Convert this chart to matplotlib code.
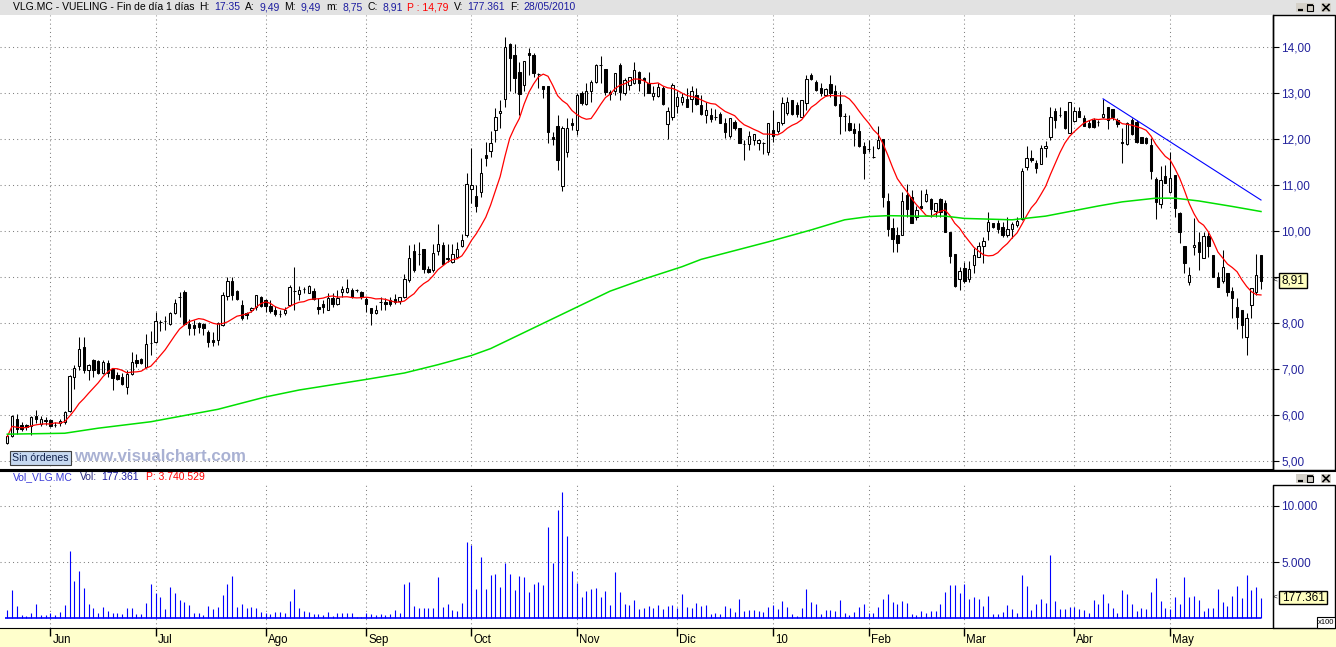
import numpy as np
import pandas as pd
import matplotlib
matplotlib.use("Agg")
import matplotlib.pyplot as plt
from matplotlib.patches import Rectangle
import matplotlib.transforms as mtransforms

plt.rcParams['font.family'] = ['Liberation Sans', 'DejaVu Sans']

# ---------------- data ----------------
opens = [
    5.40, 5.54, 5.92, 5.80, 5.80, 5.77, 5.98, 5.81, 5.90, 5.90,
    5.80, 5.83, 5.85, 6.10, 6.83, 7.07, 7.49, 6.98, 7.20, 7.18,
    6.91, 7.14, 7.00, 6.88, 6.83, 6.61, 6.90, 7.21, 7.23, 7.05,
    7.58, 7.60, 8.02, 8.04, 7.99, 8.22, 8.58, 8.69, 7.98, 7.96,
    8.00, 7.98, 7.82, 7.63, 7.63, 7.97, 8.60, 8.92, 8.71, 8.40,
    8.23, 8.29, 8.36, 8.58, 8.51, 8.38, 8.30, 8.20, 8.22, 8.40,
    8.71, 8.63, 8.74, 8.65, 8.71, 8.36, 8.42, 8.30, 8.54, 8.42,
    8.69, 8.69, 8.72, 8.72, 8.69, 8.52, 8.33, 8.22, 8.47, 8.47,
    8.51, 8.52, 8.49, 8.58, 8.94, 9.57, 9.50, 9.61, 9.19, 9.16,
    9.57, 9.70, 9.43, 9.34, 9.45, 9.68, 9.91, 10.91, 10.77, 10.85,
    11.66, 11.75, 12.20, 12.57, 12.87, 14.07, 13.83, 13.46, 13.17, 13.88,
    13.83, 13.42, 13.16, 13.15, 12.06, 12.29, 10.99, 11.73, 12.36, 12.20,
    13.00, 12.77, 13.06, 13.25, 13.62, 13.53, 13.02, 13.04, 13.62, 13.01,
    13.18, 13.23, 13.46, 13.34, 13.23, 12.95, 12.94, 13.11, 12.33, 12.49,
    12.72, 12.80, 12.87, 12.87, 12.96, 12.75, 12.53, 12.53, 12.49, 12.55,
    12.36, 12.07, 12.38, 12.24, 11.90, 11.89, 11.99, 11.93, 11.91, 11.73,
    12.20, 12.17, 12.35, 12.57, 12.86, 12.75, 12.49, 12.78, 13.40, 13.25,
    13.11, 12.96, 13.20, 13.04, 12.77, 12.51, 12.36, 12.22, 12.19, 11.86,
    11.78, 11.61, 11.80, 12.01, 10.66, 10.08, 9.92, 9.91, 10.79, 10.74,
    10.32, 10.56, 10.66, 10.70, 10.45, 10.70, 10.61, 9.98, 9.50, 8.96,
    9.21, 8.96, 9.27, 9.45, 9.67, 10.01, 10.17, 10.19, 10.10, 9.91,
    10.05, 10.14, 10.27, 11.39, 11.59, 11.49, 11.46, 11.80, 12.06, 12.62,
    12.53, 12.62, 12.13, 12.40, 12.62, 12.47, 12.36, 12.41, 12.38, 12.49,
    12.70, 12.65, 12.43, 11.95, 11.90, 12.43, 12.38, 12.04, 12.02, 11.88,
    11.13, 10.59, 11.20, 10.86, 11.22, 10.39, 9.67, 8.89, 9.65, 9.77,
    9.41, 9.90, 9.49, 9.01, 8.93, 9.10, 8.70, 8.36, 8.30, 7.71,
    8.40, 8.69, 9.49]

highs = [
    5.59, 6.00, 6.03, 5.85, 5.81, 5.98, 6.12, 5.98, 5.96, 5.92,
    5.85, 5.93, 6.10, 6.87, 7.09, 7.71, 7.71, 7.12, 7.23, 7.21,
    7.20, 7.21, 7.02, 6.94, 6.92, 6.98, 7.38, 7.34, 7.25, 7.76,
    7.83, 8.24, 8.07, 8.16, 8.24, 8.53, 8.67, 8.72, 8.09, 8.07,
    8.02, 8.00, 7.85, 7.82, 8.02, 8.69, 9.01, 9.01, 8.72, 8.51,
    8.25, 8.36, 8.61, 8.60, 8.52, 8.51, 8.38, 8.29, 8.35, 8.83,
    9.23, 8.81, 8.78, 8.83, 8.76, 8.54, 8.51, 8.65, 8.65, 8.72,
    8.81, 8.96, 8.76, 8.74, 8.71, 8.58, 8.33, 8.40, 8.58, 8.54,
    8.58, 8.63, 8.58, 9.07, 9.70, 9.73, 9.77, 9.61, 9.24, 9.73,
    10.15, 9.77, 9.73, 9.73, 9.77, 9.95, 11.26, 11.80, 11.01, 11.59,
    11.95, 12.17, 12.67, 12.86, 14.22, 14.09, 14.07, 13.69, 13.70, 13.98,
    13.88, 13.45, 13.16, 13.15, 12.15, 12.53, 12.28, 12.46, 12.46, 13.01,
    13.04, 13.22, 13.29, 13.64, 13.81, 13.53, 13.07, 13.44, 13.65, 13.33,
    13.36, 13.67, 13.49, 13.36, 13.47, 13.16, 13.22, 13.15, 12.71, 13.22,
    13.04, 13.00, 13.11, 13.15, 13.11, 12.96, 12.82, 12.67, 12.65, 12.60,
    12.46, 12.46, 12.42, 12.24, 11.99, 12.19, 12.12, 12.00, 11.95, 12.35,
    12.64, 12.38, 12.93, 12.93, 12.86, 12.82, 12.86, 13.40, 13.44, 13.29,
    13.23, 13.11, 13.40, 13.18, 13.04, 12.57, 12.53, 12.35, 12.35, 11.95,
    11.99, 11.86, 12.28, 12.01, 10.83, 10.28, 10.10, 10.86, 11.02, 10.90,
    10.54, 10.90, 10.91, 10.72, 10.62, 10.72, 10.68, 9.98, 9.50, 9.23,
    9.34, 9.36, 9.63, 9.77, 9.88, 10.41, 10.17, 10.25, 10.21, 10.32,
    10.21, 10.32, 11.37, 11.85, 11.77, 11.55, 11.88, 11.96, 12.71, 12.67,
    12.71, 12.62, 12.80, 12.71, 12.71, 12.53, 12.41, 12.46, 12.43, 12.88,
    12.70, 12.65, 12.46, 12.24, 12.38, 12.46, 12.42, 12.06, 12.06, 12.02,
    11.19, 11.41, 11.44, 11.73, 11.22, 10.43, 9.67, 9.23, 10.28, 9.99,
    9.99, 9.99, 9.49, 9.12, 9.59, 9.10, 8.80, 8.54, 8.30, 8.23,
    8.76, 9.51, 9.49]

lows = [
    5.38, 5.53, 5.59, 5.66, 5.68, 5.58, 5.83, 5.77, 5.80, 5.74,
    5.74, 5.77, 5.81, 6.08, 6.58, 6.98, 6.91, 6.77, 6.83, 6.89,
    6.89, 6.83, 6.55, 6.76, 6.65, 6.47, 6.88, 7.05, 7.11, 7.03,
    7.31, 7.58, 7.83, 7.85, 7.97, 8.20, 8.13, 7.96, 7.74, 7.74,
    7.78, 7.74, 7.49, 7.50, 7.53, 7.94, 8.51, 8.51, 8.51, 8.07,
    8.09, 8.25, 8.29, 8.36, 8.25, 8.22, 8.16, 8.14, 8.18, 8.38,
    8.29, 8.51, 8.66, 8.65, 8.51, 8.20, 8.23, 8.29, 8.36, 8.40,
    8.58, 8.66, 8.56, 8.69, 8.53, 8.25, 7.97, 8.20, 8.29, 8.30,
    8.38, 8.43, 8.43, 8.56, 8.90, 9.12, 9.26, 9.10, 9.10, 9.12,
    9.48, 9.26, 9.34, 9.31, 9.41, 9.66, 9.88, 10.61, 10.41, 10.75,
    11.41, 11.62, 11.95, 12.24, 12.70, 13.04, 13.00, 12.53, 13.04, 13.40,
    13.36, 13.11, 12.89, 11.91, 11.88, 11.33, 10.88, 11.62, 12.20, 12.10,
    12.75, 12.75, 12.80, 13.22, 13.22, 12.96, 12.86, 12.96, 12.86, 12.96,
    13.07, 13.20, 13.04, 12.95, 13.00, 12.86, 12.93, 12.75, 12.00, 12.42,
    12.57, 12.75, 12.70, 12.60, 12.75, 12.53, 12.35, 12.38, 12.41, 12.35,
    12.02, 12.02, 12.20, 11.91, 11.54, 11.77, 11.88, 11.77, 11.68, 11.65,
    11.95, 12.14, 12.31, 12.53, 12.53, 12.49, 12.49, 12.64, 13.29, 13.04,
    12.94, 12.94, 12.93, 12.72, 12.12, 12.17, 12.19, 11.86, 11.84, 11.13,
    11.73, 11.59, 11.78, 10.52, 9.90, 9.56, 9.56, 9.91, 10.32, 10.17,
    10.25, 10.49, 10.64, 10.32, 10.32, 10.30, 9.99, 9.32, 8.80, 8.72,
    8.87, 8.89, 9.10, 9.45, 9.30, 9.81, 10.08, 9.96, 9.88, 9.88,
    9.86, 10.10, 10.25, 11.33, 11.51, 11.26, 11.46, 11.62, 11.98, 12.24,
    12.49, 12.22, 12.13, 12.38, 12.49, 12.28, 12.24, 12.24, 12.29, 12.46,
    12.22, 12.42, 12.26, 11.49, 11.88, 12.09, 11.93, 11.91, 11.89, 11.13,
    10.26, 10.50, 11.04, 10.83, 10.32, 9.74, 9.10, 8.83, 9.49, 9.16,
    9.41, 9.45, 9.01, 8.78, 8.88, 8.59, 8.11, 7.87, 7.67, 7.31,
    8.11, 8.62, 8.75]

closes = [
    5.54, 5.98, 5.70, 5.70, 5.74, 5.96, 5.93, 5.91, 5.87, 5.77,
    5.80, 5.88, 6.08, 6.85, 7.03, 7.45, 6.98, 7.10, 6.98, 6.91,
    7.15, 6.91, 6.81, 6.80, 6.69, 6.90, 7.15, 7.14, 7.14, 7.56,
    7.58, 8.04, 8.02, 8.04, 8.22, 8.44, 8.58, 7.99, 7.89, 7.89,
    7.91, 7.89, 7.60, 7.60, 8.00, 8.61, 8.92, 8.61, 8.52, 8.11,
    8.18, 8.34, 8.61, 8.38, 8.38, 8.27, 8.20, 8.20, 8.30, 8.80,
    8.71, 8.72, 8.74, 8.81, 8.53, 8.32, 8.35, 8.54, 8.42, 8.56,
    8.74, 8.76, 8.58, 8.72, 8.58, 8.43, 8.22, 8.29, 8.47, 8.42,
    8.43, 8.47, 8.58, 8.96, 9.43, 9.16, 9.50, 9.19, 9.12, 9.52,
    9.73, 9.29, 9.39, 9.50, 9.62, 9.81, 11.03, 11.01, 10.56, 11.26,
    11.60, 11.91, 12.48, 12.62, 14.00, 13.76, 13.33, 12.98, 13.70, 13.83,
    13.44, 13.42, 13.09, 12.15, 12.01, 11.54, 12.24, 12.24, 12.31, 12.96,
    12.78, 13.04, 13.24, 13.62, 13.62, 13.02, 12.99, 13.44, 13.02, 13.29,
    13.35, 13.51, 13.22, 13.29, 13.00, 13.01, 13.13, 12.77, 12.62, 13.17,
    12.92, 12.91, 12.71, 13.05, 12.77, 12.54, 12.64, 12.44, 12.49, 12.36,
    12.15, 12.46, 12.24, 11.93, 11.90, 12.08, 12.12, 11.99, 11.91, 12.35,
    12.07, 12.38, 12.78, 12.82, 12.54, 12.54, 12.86, 13.31, 13.30, 13.07,
    13.01, 13.09, 13.00, 12.75, 12.51, 12.51, 12.20, 12.13, 11.86, 11.71,
    11.78, 11.61, 11.99, 10.75, 10.04, 9.83, 9.75, 10.66, 10.49, 10.19,
    10.46, 10.50, 10.80, 10.49, 10.62, 10.41, 9.99, 9.47, 8.82, 9.14,
    8.92, 9.17, 9.48, 9.68, 9.79, 10.20, 10.09, 10.06, 9.91, 10.04,
    10.15, 10.22, 11.31, 11.59, 11.54, 11.38, 11.80, 11.85, 12.49, 12.43,
    12.53, 12.24, 12.80, 12.62, 12.49, 12.29, 12.26, 12.26, 12.38, 12.55,
    12.43, 12.49, 12.33, 11.91, 12.35, 12.11, 11.95, 11.93, 11.91, 11.31,
    10.64, 11.12, 11.06, 11.15, 10.50, 9.99, 9.30, 9.05, 9.70, 9.56,
    9.90, 9.67, 9.01, 8.80, 9.22, 8.67, 8.54, 8.14, 7.96, 8.11,
    8.76, 9.05, 8.91]

# volume in units of x100 shares
volumes = [
    744, 2530, 1100, 298, 208, 446, 1280, 298, 298, 446,
    298, 565, 1190, 5950, 3333, 4167, 2738, 1280, 952, 446,
    1042, 655, 446, 446, 387, 952, 952, 387, 387, 1369,
    3065, 2262, 1934, 833, 2827, 2262, 1637, 1488, 1190, 446,
    446, 298, 1100, 804, 1042, 2083, 3065, 3780, 1042, 1280,
    952, 1042, 952, 565, 446, 387, 565, 565, 446, 1548,
    2619, 952, 655, 565, 387, 387, 298, 565, 208, 446,
    446, 446, 446, 149, 149, 446, 387, 298, 387, 298,
    387, 744, 506, 3065, 3244, 1100, 893, 893, 893, 952,
    3631, 1042, 1280, 744, 655, 1369, 6756, 6517, 2619, 5476,
    2619, 3869, 3958, 2797, 4940, 3958, 2530, 3780, 3690, 2351,
    3065, 3244, 2976, 8154, 4940, 9612, 11280, 7351, 4226, 3155,
    1905, 2440, 2619, 2708, 1905, 2440, 1190, 4137, 2351, 1280,
    1190, 1637, 833, 952, 1101, 923, 1190, 833, 1100, 1190,
    893, 2173, 1012, 923, 1369, 1100, 1190, 387, 476, 387,
    1100, 923, 565, 1726, 655, 744, 744, 655, 565, 1012,
    1190, 833, 1548, 1012, 387, 208, 923, 2619, 1458, 1280,
    387, 744, 744, 655, 1637, 476, 298, 565, 1012, 1280,
    476, 476, 1012, 1726, 2173, 1458, 1280, 1548, 1369, 387,
    298, 655, 476, 655, 655, 1280, 2351, 2976, 2976, 2262,
    3065, 1726, 1905, 1726, 1100, 1994, 387, 387, 565, 1190,
    833, 476, 3869, 2887, 744, 1280, 1726, 1369, 5655, 1548,
    833, 833, 1012, 1012, 833, 744, 476, 1637, 1280, 2173,
    1369, 923, 476, 2530, 2173, 1280, 655, 923, 833, 2351,
    3601, 1548, 923, 833, 1905, 1280, 3690, 1905, 1994, 1637,
    655, 923, 923, 2619, 1458, 1101, 1994, 2887, 1815, 3869,
    2530, 2797, 1774]

month_labels = ['Jun', 'Jul', 'Ago', 'Sep', 'Oct', 'Nov', 'Dic', '10',
                'Feb', 'Mar', 'Abr', 'May']
month_starts = [9, 31, 54, 75, 97, 119, 140, 160, 180, 200, 223, 243]

# long moving average (green) read at sample bars
green_idx = [0, 12, 19, 30, 44, 54, 61, 75, 83, 90, 97, 101, 107, 112, 120,
             126, 133, 141, 145, 152, 159, 168, 175, 180, 184, 190, 196, 200,
             210, 217, 221, 228, 233, 240, 244, 249, 256, 262]
green_val = [5.59, 5.61, 5.72, 5.86, 6.13, 6.40, 6.55, 6.78, 6.92, 7.10, 7.30,
             7.45, 7.75, 8.00, 8.40, 8.70, 8.96, 9.23, 9.39, 9.58, 9.77, 10.03,
             10.25, 10.32, 10.34, 10.33, 10.33, 10.28, 10.25, 10.33, 10.41,
             10.55, 10.64, 10.72, 10.72, 10.66, 10.54, 10.43]

# blue trend line
trend_idx = [229, 262]
trend_val = [12.88, 10.68]

price_ticks = [5, 6, 7, 8, 9, 10, 11, 12, 13, 14]
vol_ticks = [5000, 10000]
ma_window = 10

last_price_label = '8,91'
last_vol_label = '177.361'

# ---------------- figure ----------------
W, H = 1336, 647
fig = plt.figure(figsize=(W / 100, H / 100), dpi=100)
fig.patch.set_facecolor('white')


def R(l, t, w, h):
    return [l / W, 1 - (t + h) / H, w / W, h / H]


NAVY = '#1c1ca0'
AXBLUE = '#23239c'
GRID = dict(color='#808080', linestyle=(0, (1, 3)), linewidth=0.75)
X0, X1 = -1.526, 264.51

bg = fig.add_axes([0, 0, 1, 1], zorder=-5)
bg.set_xlim(0, W); bg.set_ylim(H, 0); bg.axis('off')
bg.add_patch(Rectangle((0, 0), W, 15, facecolor='#e2e2e2', edgecolor='none'))
bg.add_patch(Rectangle((0, 628), W, 19, facecolor='#ffffcc', edgecolor='none'))

o = np.array(opens); h = np.array(highs); l = np.array(lows); c = np.array(closes)
idx = np.arange(len(c))

# ---- price panel ----
ax = fig.add_axes(R(0, 15, 1273, 455))
ax.set_facecolor('white')
ax.set_xlim(X0, X1)
ax.set_ylim(4.811, 14.702)
ax.vlines(idx, l, h, color='black', lw=0.75, zorder=2)
up = c >= o
ax.bar(idx[up], (c - o)[up], bottom=o[up], width=0.5, facecolor='white',
       edgecolor='black', lw=0.75, zorder=3)
ax.bar(idx[~up], (o - c)[~up], bottom=c[~up], width=0.5, facecolor='black',
       edgecolor='black', lw=0.75, zorder=3)
ma = pd.Series(c).rolling(ma_window, min_periods=1).mean()
ax.plot(idx, ma, color='#ff0000', lw=0.9, zorder=4)
ax.plot(green_idx, green_val, color='#00e000', lw=1.1, zorder=4)
ax.plot(trend_idx, trend_val, color='#0000ff', lw=0.8, zorder=4)

ax.set_xticks(month_starts)
ax.set_yticks(price_ticks)
ax.set_yticklabels([f'{v:.2f}'.replace('.', ',') for v in price_ticks])
ax.yaxis.tick_right()
ax.tick_params(axis='x', length=0, labelbottom=False)
ax.tick_params(axis='y', direction='out', length=4, width=0.8, pad=2,
               labelsize=8.5, labelcolor=AXBLUE, color='black')
ax.grid(True, **GRID)
for s in ['left', 'top']:
    ax.spines[s].set_visible(False)
ax.spines['right'].set_color('black'); ax.spines['right'].set_linewidth(1)
ax.spines['bottom'].set_color('black'); ax.spines['bottom'].set_linewidth(1.5)

# ---- volume panel ----
av = fig.add_axes(R(0, 485, 1273, 143))
av.set_facecolor('white')
av.set_xlim(X0, X1)
av.set_ylim(-863, 11859)
av.vlines(idx, 0, volumes, color='#0000ff', lw=0.8)
av.hlines(0, idx[0] - 0.4, idx[-1], color='#0000ff', lw=1.2)
av.set_yticks(vol_ticks)
av.set_yticklabels([f'{v:,}'.replace(',', '.') for v in vol_ticks])
av.yaxis.tick_right()
av.tick_params(axis='y', direction='out', length=4, width=0.8, pad=2,
               labelsize=8.5, labelcolor=AXBLUE, color='black')
av.set_xticks(month_starts)
av.set_xticklabels(month_labels)
av.tick_params(axis='x', direction='out', length=5.8, width=1, pad=-1.6,
               labelsize=8.3, color='black', labelcolor='black')
offset = mtransforms.ScaledTranslation(2 / 100, 0, fig.dpi_scale_trans)
for lab in av.get_xticklabels():
    lab.set_horizontalalignment('left')
    lab.set_transform(lab.get_transform() + offset)
av.grid(True, **GRID)
for s in ['left', 'top']:
    av.spines[s].set_visible(False)
av.spines['right'].set_color('black')
av.spines['bottom'].set_color('black')

# ---- overlay for frame pieces and texts ----
ov = fig.add_axes([0, 0, 1, 1], zorder=10)
ov.set_xlim(0, W); ov.set_ylim(H, 0); ov.axis('off')
ov.patch.set_alpha(0)

ov.add_patch(Rectangle((1273, 15), 62, 455, fill=False, ec='black', lw=1))
ov.add_patch(Rectangle((1273, 485), 62, 143, fill=False, ec='black', lw=1))
ov.hlines(470.5, 0, W, color='black', lw=1.5)


def buttons(y0):
    ov.add_patch(Rectangle((1295.5, y0), 9, 9, facecolor='#d4d0c8', ec='none'))
    ov.add_patch(Rectangle((1305, y0), 9, 9, facecolor='#d4d0c8', ec='none'))
    ov.add_patch(Rectangle((1321, y0), 10, 9, facecolor='#d4d0c8', ec='none'))
    ov.hlines(y0 + 7, 1297.5, 1302.5, color='black', lw=1.6)
    ov.add_patch(Rectangle((1306.5, y0 + 1.5), 6, 6, fill=False, ec='black', lw=0.8))
    ov.hlines(y0 + 2, 1306.5, 1312.5, color='black', lw=1.2)
    ov.plot([1323, 1329], [y0 + 1.5, y0 + 7.5], color='black', lw=1.2)
    ov.plot([1323, 1329], [y0 + 7.5, y0 + 1.5], color='black', lw=1.2)


buttons(3)
buttons(474)

renderer = fig.canvas.get_renderer()


def seq_text(x, y, pieces, size, gap=4.7):
    for s, col in pieces:
        t = ov.text(x, y, s, color=col, fontsize=size, va='center', ha='left')
        x += t.get_window_extent(renderer=renderer).width + gap


seq_text(13, 7.5, [
    ('VLG.MC - VUELING - Fin de día 1 días', 'black'), ('H:', 'black'),
    ('17:35', NAVY), ('A:', 'black'), ('9,49', NAVY), ('M:', 'black'),
    ('9,49', NAVY), ('m:', 'black'), ('8,75', NAVY), ('C:', 'black'),
    ('8,91', NAVY), ('P : 14,79', '#ff0000'), ('V:', 'black'),
    ('177.361', NAVY), ('F:', 'black'), ('28/05/2010', NAVY)], 7.5)

for xx, s, col in [(13.3, 'Vol_VLG.MC', '#3a3ad8'), (80, 'Vol:', '#2a2a80'),
                   (101.7, '177.361', NAVY), (146, 'P: 3.740.529', '#ff0000')]:
    ov.text(xx, 477.5, s, color=col, fontsize=7.5, va='center', ha='left')

# Sin órdenes button + watermark
ov.add_patch(Rectangle((9.5, 450.5), 61.5, 14, facecolor='#c6d8f0',
                       ec='#404040', lw=0.8))
ov.text(40.2, 457.8, 'Sin órdenes', fontsize=7.6, color='#10204a',
        ha='center', va='center')
ov.text(74, 456.5, 'www.visualchart.com', fontsize=12.2, fontweight='bold',
        color='#a9b1d3', ha='left', va='center')

# last value boxes on the right axis
ov.add_patch(Rectangle((1279, 273), 28, 15, facecolor='#ffffc0', ec='black', lw=1))
ov.text(1293, 280.8, last_price_label, fontsize=8.5, color='black',
        ha='center', va='center')
ov.text(1275.5, 280.5, '<', fontsize=6, color='black', ha='center', va='center')

ov.add_patch(Rectangle((1279, 591), 48, 13, facecolor='#ffffc0', ec='black', lw=1))
ov.text(1303, 597.8, last_vol_label, fontsize=8.5, color='black',
        ha='center', va='center')
ov.text(1275.5, 597.5, '<', fontsize=6, color='black', ha='center', va='center')

ov.add_patch(Rectangle((1316.5, 616.5), 18.5, 11, facecolor='white', ec='black', lw=0.8))
ov.text(1326, 622.3, 'x100', fontsize=5.5, color='black', ha='center', va='center')

fig.savefig('out.png', dpi=100, facecolor='white')
